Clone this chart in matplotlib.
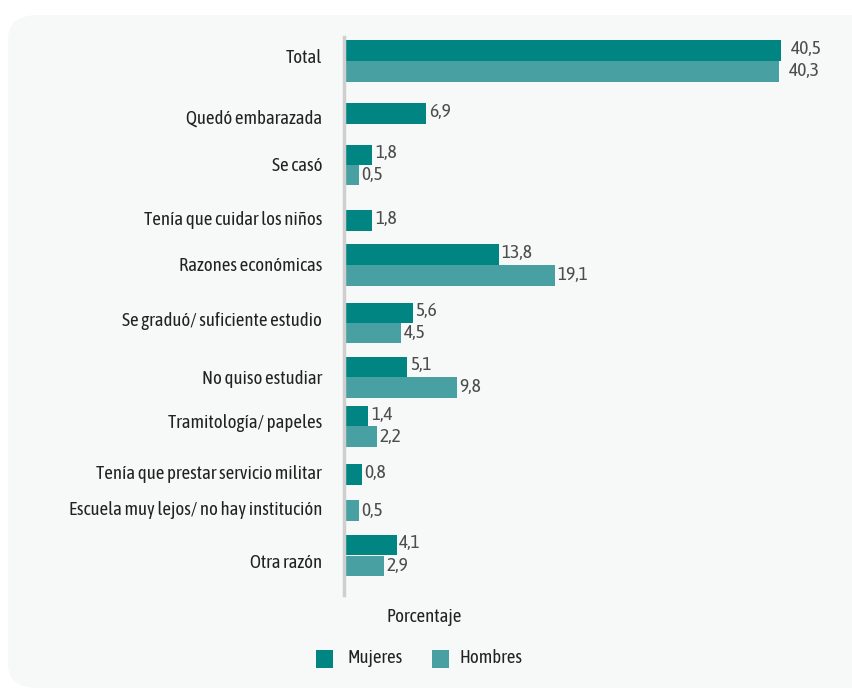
import numpy as np
import matplotlib.pyplot as plt
from matplotlib.patches import FancyBboxPatch, Rectangle

plt.rcParams["font.family"] = ["Asap Condensed", "DejaVu Sans"]

CATEGORIES = [
    "Total",
    "Quedó embarazada",
    "Se casó",
    "Tenía que cuidar los niños",
    "Razones económicas",
    "Se graduó/ suficiente estudio",
    "No quiso estudiar",
    "Tramitología/ papeles",
    "Tenía que prestar servicio militar",
    "Escuela muy lejos/ no hay institución",
    "Otra razón",
]
MUJERES = [40.5, 6.9, 1.8, 1.8, 13.8, 5.6, 5.1, 1.4, 0.8, None, 4.1]
HOMBRES = [40.3, None, 0.5, None, 19.1, 4.5, 9.8, 2.2, None, 0.5, 2.9]
SERIES = ["Mujeres", "Hombres"]

# layout (pixel rows in the 853x690 picture)
M_Y = [50.5, 113.5, 155, 220.5, 254.5, 313, 367, 416, 474.5, None, 545]
H_Y = [71.5, None, 175, None, 275.5, 333, 387.5, 436.5, None, 510.5, 566]
LABEL_Y = [58, 119, 166, 220, 266, 321, 379, 423, 474, 510, 563]
BAR_H = 20.5
BASE = -0.9  # the value axis starts a bit left of zero, bars grow from there

C_M = "#008582"
C_H = "#48a0a3"
TXT = "#222222"
VAL = "#4d4d4d"

W, H = 853, 690
fig = plt.figure(figsize=(W / 100, H / 100), dpi=100)
fig.patch.set_facecolor("white")

# rounded panel behind everything
panel = FancyBboxPatch((8 / W, 2 / H), (W + 30) / W, 673 / H,
                       boxstyle="round,pad=0,rounding_size=0.035",
                       transform=fig.transFigure, facecolor="#f7f9f9",
                       edgecolor="none", zorder=-10)
fig.patches.append(panel)

y_top, y_bot = 37, 595
x0 = 344
px_per_unit = 10.55
xmax = BASE + (W - x0) / px_per_unit
ax = fig.add_axes([x0 / W, (H - y_bot) / H, (W - x0) / W, (y_bot - y_top) / H])
ax.set_facecolor("none")
ax.set_zorder(1)
ax.set_xlim(BASE, xmax)
ax.set_ylim(y_bot, y_top)

for vals, ys, col, off in [(MUJERES, M_Y, C_M, -1.5), (HOMBRES, H_Y, C_H, 0)]:
    for v, y in zip(vals, ys):
        if v is None:
            continue
        ax.barh(y, v - BASE, left=BASE, height=BAR_H, color=col, zorder=2)
        pad = 1.0 if v > 30 else 0.25
        ax.text(v + pad, y + off, f"{v:.1f}".replace(".", ","), ha="left",
                va="center", fontsize=14, color=VAL)

for cat, y in zip(CATEGORIES, LABEL_Y):
    ax.text(BASE - 22 / px_per_unit, y, cat, ha="right", va="center",
            fontsize=13.5, color=TXT, clip_on=False)

for s in ["top", "right", "bottom"]:
    ax.spines[s].set_visible(False)
ax.spines["left"].set_color("#cfcfcf")
ax.spines["left"].set_linewidth(2.5)
ax.set_xticks([])
ax.set_yticks([])

fig.text(424 / W, 1 - 617 / H, "Porcentaje", ha="center", va="center",
         fontsize=13.5, color=TXT, zorder=2)

# legend
for (sx, tx), name, col in zip([(316, 348), (432, 460)], SERIES, [C_M, C_H]):
    fig.patches.append(Rectangle((sx / W, 1 - 668 / H), 17 / W, 18 / H,
                                 transform=fig.transFigure, facecolor=col,
                                 edgecolor="none", zorder=2))
    fig.text(tx / W, 1 - 658 / H, name, ha="left", va="center",
             fontsize=13.5, color=TXT, zorder=2)

fig.savefig("out.png", dpi=100)
